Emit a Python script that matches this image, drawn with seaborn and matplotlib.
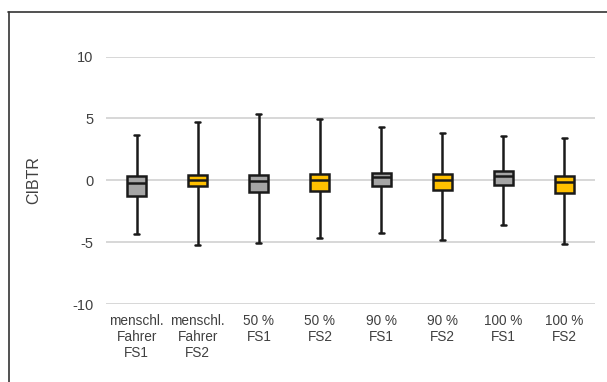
import numpy as np
import pandas as pd
import matplotlib
matplotlib.use("Agg")
import matplotlib.pyplot as plt
import seaborn as sns
from matplotlib.lines import Line2D

# ---- data ----
categories = ["menschl.\nFahrer\nFS1", "menschl.\nFahrer\nFS2", "50 %\nFS1", "50 %\nFS2",
              "90 %\nFS1", "90 %\nFS2", "100 %\nFS1", "100 %\nFS2"]
whisker_low = [-4.34, -5.24, -5.04, -4.67, -4.24, -4.82, -3.60, -5.15]
q1 = [-1.25, -0.46, -0.93, -0.84, -0.45, -0.76, -0.37, -1.00]
median = [-0.22, 0.00, -0.05, 0.00, 0.30, 0.03, 0.38, -0.16]
q3 = [0.33, 0.41, 0.46, 0.48, 0.60, 0.49, 0.71, 0.33]
whisker_high = [3.66, 4.74, 5.39, 4.93, 4.28, 3.85, 3.61, 3.39]
yticks = [-10, -5, 0, 5, 10]
ylabel = "CIBTR"

box_colors = ["#A5A5A5", "#FFC000"] * 4

# five-number summary per category -> long table (min, q1, median, q3, max)
rows = []
for c, lo, a, m, b, hi in zip(categories, whisker_low, q1, median, q3, whisker_high):
    for v in (lo, a, m, b, hi):
        rows.append({"cat": c, "val": v})
df = pd.DataFrame(rows)

sns.set_style("white")
plt.rcParams["font.family"] = ["Liberation Sans", "DejaVu Sans"]

fig = plt.figure(figsize=(6.07, 3.82), dpi=100)
ax = fig.add_axes([106 / 607, 1 - 304 / 382, (595 - 106) / 607, (304 - 56.5) / 382])

sns.boxplot(data=df, x="cat", y="val", hue="cat", order=categories, hue_order=categories,
            palette=box_colors, saturation=1, whis=(0, 100), width=0.31, linewidth=1.8,
            linecolor="#1a1a1a", legend=False, ax=ax, capwidths=0.08, zorder=3)

ax.set_ylim(-10, 10)
ax.set_xlim(-0.5, len(categories) - 0.5)
ax.set_yticks(yticks)
ax.set_yticklabels([str(t) for t in yticks])
ax.yaxis.grid(True, color="#D4D4D4", linewidth=1.3, zorder=0)
ax.set_axisbelow(True)
for s in ax.spines.values():
    s.set_visible(False)
ax.tick_params(axis="y", length=0, pad=9, labelsize=10.5, labelcolor="#404040")
ax.tick_params(axis="x", length=0, pad=7, labelsize=9.8, labelcolor="#404040")
for lab in ax.get_xticklabels():
    lab.set_linespacing(1.2)
ax.set_xlabel("")
ax.set_ylabel(ylabel, fontsize=11.5, color="#404040", labelpad=22)

# outer frame lines (top and left)
fig.add_artist(Line2D([8 / 607, 1], [1 - 12 / 382] * 2, transform=fig.transFigure,
                      color="#333333", linewidth=1.2))
fig.add_artist(Line2D([9 / 607] * 2, [0, 1 - 12 / 382], transform=fig.transFigure,
                      color="#333333", linewidth=1.2))

fig.savefig("out.png", dpi=100)
